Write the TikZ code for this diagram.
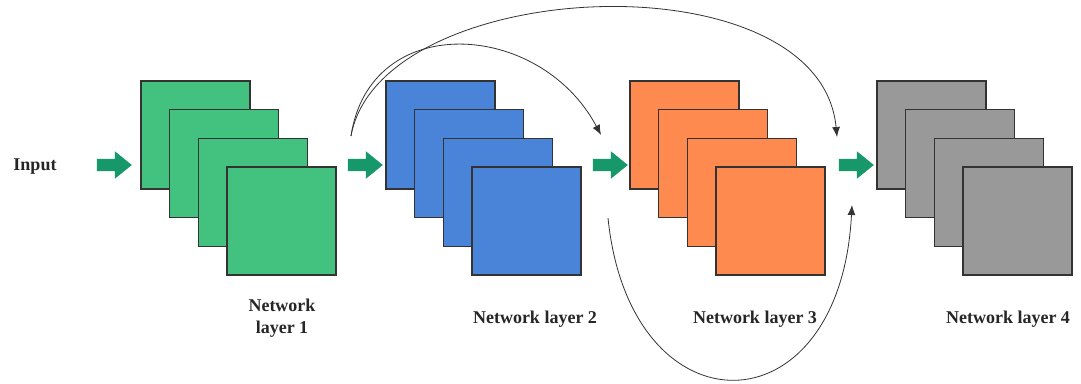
\documentclass[tikz,border=0pt]{standalone}
\usepackage{fontspec}
\setmainfont{Liberation Serif}
\usetikzlibrary{shapes.arrows,arrows.meta}

\definecolor{mapgreen}{RGB}{67,193,127}
\definecolor{mapblue}{RGB}{74,132,216}
\definecolor{maporange}{RGB}{255,138,80}
\definecolor{mapgrey}{RGB}{153,153,153}
\definecolor{flowgreen}{RGB}{23,152,106}
\definecolor{edgegrey}{RGB}{51,51,51}

\tikzset{
  fmap/.style={draw=edgegrey,line width=1.3pt,minimum width=109pt,minimum height=108pt,inner sep=0pt},
  flowarrow/.style={single arrow,fill=flowgreen,draw=none,minimum height=35pt,inner xsep=0pt,inner ysep=6pt,
    single arrow head extend=7.5pt,single arrow tip angle=78},
  skiplink/.style={draw=black!80,line width=0.8pt,-{Latex[length=10pt,width=8pt]}},
  lbl/.style={font=\bfseries\fontsize{18}{22}\selectfont,text=black!85,align=center}
}

\begin{document}
\begin{tikzpicture}[x=1pt,y=-1pt]
\useasboundingbox (0,0) rectangle (1081,383);

% four stacks of feature maps
\foreach \l/\x/\c in {1/141/mapgreen,2/386/mapblue,3/630/maporange,4/877/mapgrey}{
  \foreach \i in {1,...,4}{
    \node[fmap,fill=\c] (l\l s\i) at ({\x+54.5+28.7*(\i-1)},{135+28.7*(\i-1)}) {};
  }
}

\node[lbl] (in) at (35,167) {Input};
\node[flowarrow] (f1) at (110.5,165) {};
\node[flowarrow] (f2) at (361.5,165) {};
\node[flowarrow] (f3) at (606.5,165) {};
\node[flowarrow] (f4) at (852.5,165) {};

\node[lbl] (n1) at (282,318) {Network\\layer 1};
\node[lbl] (n2) at (535,319) {Network layer 2};
\node[lbl] (n3) at (755,319) {Network layer 3};
\node[lbl] (n4) at (1008,319) {Network layer 4};

% skip connections
\coordinate (sk1) at (351,136);
\coordinate (sk2) at (601,135);
\coordinate (sk3) at (837,137);
\coordinate (sk4) at (608,218);
\coordinate (sk5) at (852,205);

\draw[skiplink] (sk1) .. controls (370,10) and (540,20) .. (sk2);
\draw[skiplink] (sk1) .. controls (380,-25) and (820,-45) .. (sk3);
\draw[skiplink] (sk4) .. controls (630,435) and (840,435) .. (sk5);

\end{tikzpicture}
\end{document}
